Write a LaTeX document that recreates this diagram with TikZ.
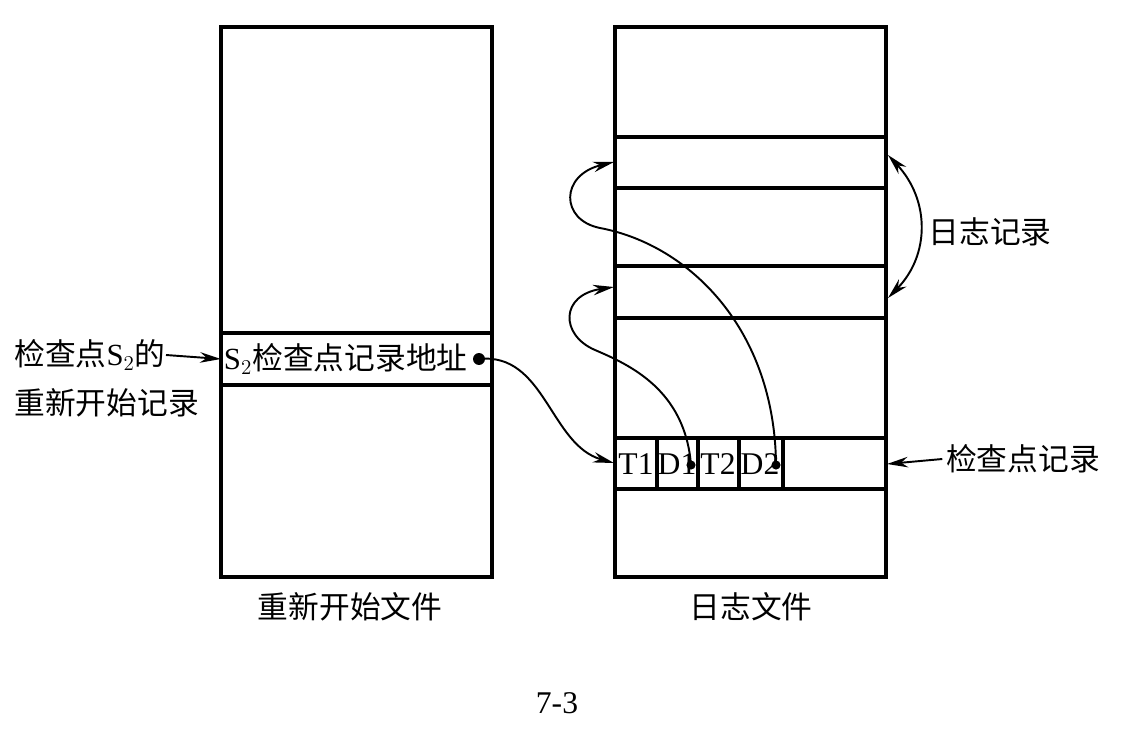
\documentclass[tikz,border=0pt]{standalone}
\usepackage{fontspec}
\setmainfont{Liberation Serif}
\newfontfamily\cjk{Noto Sans CJK SC}
\usetikzlibrary{arrows.meta, positioning}

\tikzset{
    fileframe/.style={line width=2.1pt},
    rowline/.style={line width=1.8pt},
    link/.style={line width=1.1pt, -{Stealth[length=4.2mm, width=2.1mm]}},
    bothlink/.style={line width=1.1pt, {Stealth[length=4.2mm, width=2.1mm]}-{Stealth[length=4.2mm, width=2.1mm]}},
    lbl/.style={font=\fontsize{17.5}{21}\selectfont\cjk, inner sep=0pt},
    celltxt/.style={font=\fontsize{18}{21}\selectfont, inner sep=0pt},
    dot/.style={fill=black},
}

\begin{document}
\begin{tikzpicture}[x=0.02cm, y=-0.02cm]
    \useasboundingbox (0,0) rectangle (1122,734);

    % ===== Restart file =====
    \draw[fileframe] (221,27) rectangle (492,577);
    \draw[rowline] (221,333) -- (492,333);
    \draw[rowline] (221,385) -- (492,385);
    \node[lbl, anchor=west, inner sep=1.5pt] (addr) at (221,359)
        {{\rmfamily S$_2$}检查点记录地址};
    \coordinate (addrdot) at (479,359);
    \fill[dot] (addrdot) circle (3.4pt);
    \node[lbl] (restart) at (350,607) {重新开始文件};

    % Label on the left
    \node[lbl, anchor=west] (s2a) at (14,355) {检查点{\rmfamily S$_2$}的};
    \node[lbl, anchor=west] (s2b) at (14,403) {重新开始记录};
    \draw[link] (s2a.east) -- (addr.west);

    % ===== Log file =====
    \draw[fileframe] (615,27) rectangle (886,577);
    \foreach \y in {137,188,266,318,438,489}
        \draw[rowline] (615,\y) -- (886,\y);
    \foreach \x in {657,698,739,783}
        \draw[rowline] (\x,438) -- (\x,489);
    \node[celltxt] (T1) at (636,464) {T1};
    \node[celltxt] (D1) at (677,464) {D1};
    \node[celltxt] (T2) at (718,464) {T2};
    \node[celltxt] (D2) at (760,464) {D2};
    \coordinate (d1dot) at (691,465);
    \coordinate (d2dot) at (776,465);
    \fill[dot] (d1dot) circle (2.6pt);
    \fill[dot] (d2dot) circle (2.6pt);
    \node[lbl] (logfile) at (751,607) {日志文件};

    % Targets on the log file
    \coordinate (rec1) at (614,162);
    \coordinate (rec3) at (614,287);
    \coordinate (t1in) at (614,463);
    \coordinate (lr1) at (888,155);
    \coordinate (lr2) at (888,298);
    \coordinate (ckin) at (887,464);

    % Pointers
    \draw[link] (addrdot) .. controls (545,352) and (550,445) .. (t1in);
    \draw[link] (d1dot) .. controls (685,390) and (630,365) .. (595,350)
        .. controls (560,335) and (560,295) .. (rec3);
    \draw[link] (d2dot) .. controls (775,330) and (690,245) .. (600,228)
        .. controls (560,220) and (560,175) .. (rec1);

    % Log record brace and checkpoint label
    \draw[bothlink] (lr1) .. controls (930,200) and (930,255) .. (lr2);
    \node[lbl] (logrec) at (990,232) {日志记录};
    \node[lbl, inner sep=2pt] (ckpt) at (1023,459) {检查点记录};
    \draw[link] (ckpt.west) -- (ckin);

    % Figure number
    \node[celltxt] (fignum) at (557,703) {7-3};
\end{tikzpicture}
\end{document}
